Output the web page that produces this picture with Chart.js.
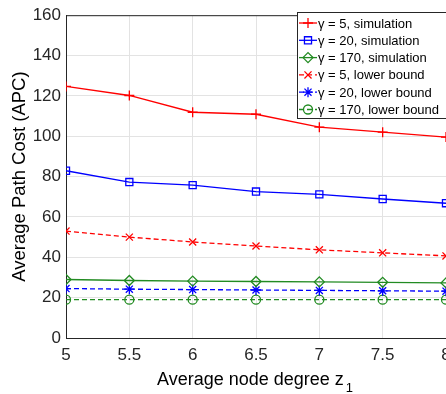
<!DOCTYPE html>
<html>
<head>
<meta charset="utf-8">
<script src="https://cdn.jsdelivr.net/npm/chart.js@4/dist/chart.umd.min.js"></script>
<style>
  body { margin: 0; overflow: hidden; background: #fff; }
</style>
</head>
<body>
<canvas id="chart1" width="480" height="394"></canvas>
<script>
var degrees = [5, 5.5, 6, 6.5, 7, 7.5, 8]
var sim5 = [124.7, 120.2, 111.9, 110.9, 104.5, 102, 99.6]
var sim20 = [82.9, 77.3, 75.8, 72.6, 71.2, 68.9, 66.8]
var sim170 = [29, 28.5, 28.2, 28, 27.8, 27.6, 27.3]
var lb5 = [53, 50, 47.6, 45.6, 43.7, 42.2, 40.7]
var lb20 = [24.5, 24.2, 24, 23.8, 23.6, 23.4, 23.2]
var lb170 = [19, 19, 19, 19, 19, 19, 19]
var yTicks = [0, 20, 40, 60, 80, 100, 120, 140, 160]

function pts(vals) {
  return vals.map(function (v, i) { return { x: degrees[i], y: v } })
}

function series(label, vals, color, style, dashed) {
  return {
    label: label,
    data: pts(vals),
    borderColor: color,
    backgroundColor: 'rgba(0,0,0,0)',
    borderWidth: 1.3,
    borderDash: dashed ? [5, 3] : [],
    pointStyle: style,
    pointRadius: style === 'circle' ? 4.5 : 5,
    pointBorderColor: color,
    pointBackgroundColor: 'rgba(0,0,0,0)',
    pointBorderWidth: 1.3,
    tension: 0
  }
}

var datasets = [
  series('\u03b3 = 5, simulation', sim5, '#ff0000', 'cross', false),
  series('\u03b3 = 20, simulation', sim20, '#0000ff', 'rect', false),
  series('\u03b3 = 170, simulation', sim170, '#228b22', 'rectRot', false),
  series('\u03b3 = 5, lower bound', lb5, '#ff0000', 'crossRot', true),
  series('\u03b3 = 20, lower bound', lb20, '#0000ff', 'star', true),
  series('\u03b3 = 170, lower bound', lb170, '#228b22', 'circle', true)
]

var font = '"Liberation Sans", Arial, sans-serif'

// legend box inside the axes, top right (MATLAB style)
var boxLegend = {
  id: 'boxLegend',
  afterDraw: function (chart) {
    var ctx = chart.ctx
    var x0 = 297, y0 = 12, w = 160, h = 106, rowH = 17.3
    ctx.save()
    ctx.fillStyle = '#fff'
    ctx.fillRect(x0, y0, w, h)
    ctx.strokeStyle = '#262626'
    ctx.lineWidth = 1
    ctx.strokeRect(x0 + 0.5, y0 + 0.5, w, h)
    ctx.font = '13px ' + font
    ctx.textBaseline = 'middle'
    chart.data.datasets.forEach(function (ds, i) {
      var y = y0 + 11 + i * rowH
      ctx.strokeStyle = ds.borderColor
      ctx.lineWidth = 1.3
      ctx.setLineDash(ds.borderDash)
      ctx.beginPath()
      ctx.moveTo(x0 + 2, y)
      ctx.lineTo(x0 + 20, y)
      ctx.stroke()
      ctx.setLineDash([])
      ctx.fillStyle = 'rgba(0,0,0,0)'
      Chart.helpers.drawPoint(ctx, {
        pointStyle: ds.pointStyle,
        radius: ds.pointRadius,
        borderWidth: 1.3
      }, x0 + 11, y)
      ctx.fillStyle = '#000'
      ctx.fillText(ds.label, x0 + 21, y + 1)
    })
    ctx.restore()
  }
}

// top border of the axes box and x title with real subscript
var extras = {
  id: 'extras',
  afterDatasetsDraw: function (chart) {
    var a = chart.chartArea, ctx = chart.ctx
    ctx.save()
    ctx.strokeStyle = '#262626'
    ctx.lineWidth = 1
    ctx.beginPath()
    ctx.moveTo(a.left, a.top + 0.5)
    ctx.lineTo(a.right, a.top + 0.5)
    ctx.stroke()
    ctx.fillStyle = '#000'
    ctx.textBaseline = 'alphabetic'
    ctx.textAlign = 'left'
    ctx.font = '18px ' + font
    ctx.fillText('Average node degree z', 157, 385)
    var tw = ctx.measureText('Average node degree z').width
    ctx.font = '13px ' + font
    ctx.fillText('1', 157 + tw + 2, 392)
    ctx.restore()
  }
}

var ctx1 = document.getElementById('chart1').getContext('2d')
var myChart1 = new Chart(ctx1, {
  type: 'line',
  data: { datasets: datasets },
  options: {
    responsive: false,
    animation: false,
    layout: { padding: { top: 9, right: 34, left: 0, bottom: 0 } },
    plugins: { legend: { display: false }, tooltip: { enabled: false } },
    scales: {
      x: {
        type: 'linear',
        min: 5,
        max: 8,
        afterFit: function (s) { s.height = 56 },
        ticks: {
          stepSize: 0.5,
          color: '#262626',
          font: { family: font, size: 17 },
          padding: 7,
          maxRotation: 0,
          callback: function (v) { return String(v) }
        },
        grid: { color: '#e3e3e3', drawTicks: false },
        border: { color: '#262626', width: 1 }
      },
      y: {
        min: 0,
        max: 160,
        afterFit: function (s) { s.width = 66 },
        afterBuildTicks: function (s) { s.ticks = yTicks.map(function (v) { return { value: v } }) },
        ticks: { color: '#262626', font: { family: font, size: 17 }, padding: 5 },
        grid: { color: '#e3e3e3', drawTicks: false },
        border: { color: '#262626', width: 1 },
        title: { display: true, text: 'Average Path Cost (APC)', color: '#000', font: { family: font, size: 18.5 }, padding: { top: 9, bottom: 0 } }
      }
    }
  },
  plugins: [extras, boxLegend]
})
</script>
</body>
</html>
